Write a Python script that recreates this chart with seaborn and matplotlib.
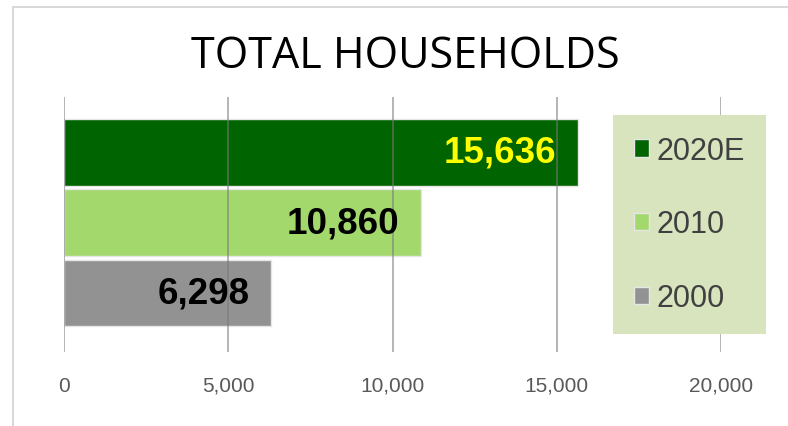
import matplotlib
matplotlib.use("Agg")
import matplotlib.pyplot as plt
import seaborn as sns
import pandas as pd
from matplotlib.patches import Rectangle

# Data
years = ["2020E", "2010", "2000"]
households = [15636, 10860, 6298]
bar_colors = ["#006400", "#a3d86c", "#929292"]
label_colors = ["#ffff00", "#000000", "#000000"]
xticks = [0, 5000, 10000, 15000, 20000]
xtick_labels = ["0", "5,000", "10,000", "15,000", "20,000"]
title = "TOTAL HOUSEHOLDS"

df = pd.DataFrame({"year": years, "households": households})

sns.set_theme(style="white")
plt.rcParams["font.family"] = ["Liberation Sans", "DejaVu Sans"]

W, H = 788, 427
fig = plt.figure(figsize=(W / 100, H / 100), dpi=100)

# figure border (only left/top visible)
fig.patches.append(Rectangle((13 / W, -0.1), 1.2, 1 - 8 / H + 0.1,
                             transform=fig.transFigure, fill=False,
                             edgecolor="#d9d9d9", lw=1.5, zorder=0))

ax = fig.add_axes([64 / W, 1 - 353 / H, (721 - 64) / W, (353 - 98) / H])

sns.barplot(data=df, y="year", x="households", hue="year",
            palette=dict(zip(years, bar_colors)), order=years,
            hue_order=years, dodge=False, width=0.95, legend=True,
            saturation=1, edgecolor="#e6e6e6", linewidth=1, ax=ax,
            orient="h")

ax.set_xlim(0, 20000)
ax.set_ylim(2.84, -0.79)
ax.set_xticks(xticks)
ax.set_xticklabels(xtick_labels, color="#595959", fontsize=15)
ax.set_yticks([])
ax.set_xlabel("")
ax.set_ylabel("")
for s in ax.spines.values():
    s.set_visible(False)
ax.tick_params(axis="x", length=0, pad=17)
ax.set_axisbelow(False)
ax.grid(axis="x", color="#7a7a7a", alpha=0.65, lw=1.2, zorder=5)

for i, (v, c) in enumerate(zip(households, label_colors)):
    ax.text(v - 650, i, f"{v:,}", ha="right", va="center",
            fontsize=26.5, fontweight="bold", color=c, zorder=6)

handles, labels = ax.get_legend_handles_labels()
leg = ax.legend(handles, labels, loc="upper left",
                bbox_to_anchor=(613 / W, 1 - 116 / H, 153 / W, 0),
                bbox_transform=fig.transFigure, mode="expand",
                fontsize=22, frameon=True, fancybox=False,
                facecolor="#d8e4bd", edgecolor="none", framealpha=1,
                handlelength=0.5, handleheight=0.5, handletextpad=0.25,
                labelspacing=1.43, borderpad=0.68, borderaxespad=0)
for t in leg.get_texts():
    t.set_color("#404040")
leg.set_zorder(10)

fig.text(405.5 / W, 1 - 57 / H, title, ha="center", va="center",
         fontsize=31, family="Open Sans", color="#000000")

fig.savefig("out.png", dpi=100)
